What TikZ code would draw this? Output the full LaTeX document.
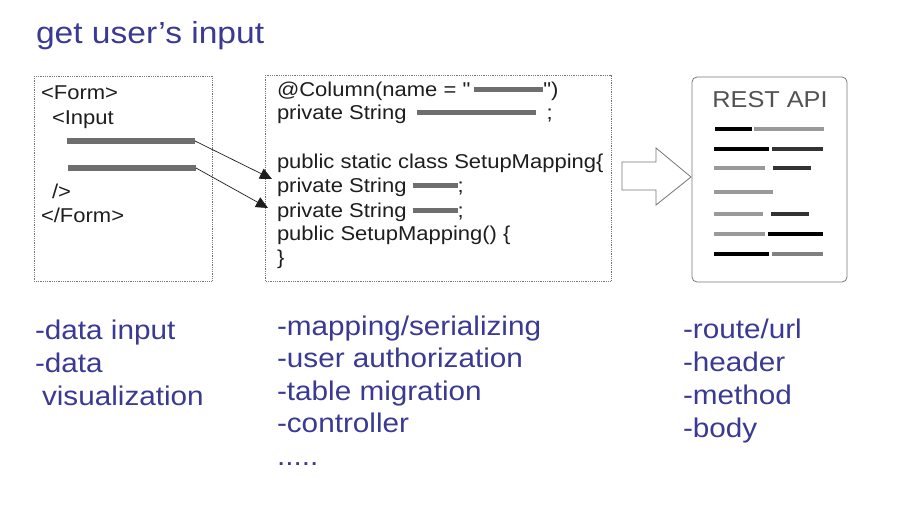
\documentclass[tikz,border=0pt]{standalone}
\usepackage{fontspec}
\setmainfont{Liberation Sans}[FakeStretch=1.1]
\newfontfamily\codefont{Liberation Sans}[FakeStretch=1.1]
\usetikzlibrary{arrows.meta}

\definecolor{slideblue}{RGB}{58,58,148}
\definecolor{bargray}{RGB}{110,110,110}
\definecolor{framegray}{RGB}{120,120,120}
\definecolor{codeblack}{RGB}{30,30,30}

\newcommand{\codebar}[1]{\textcolor{bargray}{\rule[4.5pt]{#1}{5pt}}}

\begin{document}
\begin{tikzpicture}[x=1pt,y=-1pt,
            every node/.style = {inner sep=0pt, outer sep=0pt, anchor=base west},
            titletext/.style = {font=\fontsize{30.5}{34}\selectfont, text=slideblue},
            codeline/.style = {font=\codefont\fontsize{20}{24}\selectfont, text=codeblack},
            listline/.style = {font=\fontsize{27}{33}\selectfont, text=slideblue},
            inbar/.style = {fill=bargray, anchor=center, minimum height=6pt},
            dotbox/.style = {framegray, densely dotted, line width=0.8pt},
            maparrow/.style = {-{Triangle[length=12pt,width=11pt]}, codeblack, line width=0.7pt}]
            \fill[white] (0,0) rectangle (900,506);
            \useasboundingbox (0,0) rectangle (900,506);

            \node[titletext] (title) at (36,43) {get user’s input};

            % form box
            \draw[dotbox] (34,76) rectangle (212,281);
            \node[codeline] (form) at (41,99) {<Form>};
            \node[codeline] (input) at (52,124) {<Input};
            \node[inbar, minimum width=128pt] (inbar1) at (131,141) {};
            \node[inbar, minimum width=128pt] (inbar2) at (132,168) {};
            \node[codeline] (close) at (52,198) {/>};
            \node[codeline] (endform) at (41,222) {</Form>};

            % mapping box
            \draw[dotbox] (265,75) rectangle (611,281);
            \node[codeline] (column) at (277,96) {@Column(name = "\hspace{4pt}\codebar{69pt}")};
            \node[codeline] (field) at (277,119) {private String\hspace{10pt}\codebar{119pt}\hspace{11pt};};
            \node[codeline] (class) at (277,168) {public static class SetupMapping\{};
            \node[codeline] (str1) at (277,192) {private String \codebar{45pt};};
            \node[codeline] (str2) at (277,217) {private String \codebar{45pt};};
            \node[codeline] (ctor) at (277,240) {public SetupMapping() \{};
            \node[codeline] (brace) at (277,264) {\}};

            \coordinate (tip1) at (272,179);
            \coordinate (tip2) at (268,208);
            \draw[maparrow] (inbar1.east) -- (tip1);
            \draw[maparrow] (inbar2.east) -- (tip2);

            % block arrow
            \draw[framegray, line width=0.8pt, line join=miter]
                (622,162) -- (656,162) -- (656,148) -- (691,177)
                -- (656,205) -- (656,190) -- (622,190) -- cycle;

            % rest api sheet
            \node[draw=framegray, line width=0.8pt, rounded corners=5pt, anchor=center,
                  minimum width=155pt, minimum height=205pt] (rest) at (769.5,179.5) {};
            \node[font=\fontsize{23}{26}\selectfont, text=black!68, anchor=base] (resttitle)
                at (770,107) {REST API};
            \foreach \xa/\xb/\yy/\cc in {715/752/129/black, 754/824/129/black!40,
                    714/769/149/black, 772/823/149/black!80,
                    714/765/168/black!40, 773/811/168/black!80,
                    714/773/192/black!40,
                    714/763/214/black!40, 771/809/214/black!80,
                    714/765/234/black!40, 768/823/234/black,
                    714/769/254/black, 772/823/254/black!50}
                \draw[\cc, line width=4pt] (\xa,\yy) -- (\xb,\yy);

            % bottom lists
            \node[listline] (l1) at (35,339) {-data input};
            \node[listline] (l2) at (35,372) {-data};
            \node[listline] (l3) at (42,405) {visualization};

            \node[listline] (m1) at (277,335) {-mapping/serializing};
            \node[listline] (m2) at (277,367.5) {-user authorization};
            \node[listline] (m3) at (277,400) {-table migration};
            \node[listline] (m4) at (277,432.5) {-controller};
            \node[listline] (m5) at (277,465) {.....};

            \node[listline] (r1) at (683,338) {-route/url};
            \node[listline] (r2) at (683,371) {-header};
            \node[listline] (r3) at (683,404) {-method};
            \node[listline] (r4) at (683,437) {-body};
        \end{tikzpicture}
\end{document}
